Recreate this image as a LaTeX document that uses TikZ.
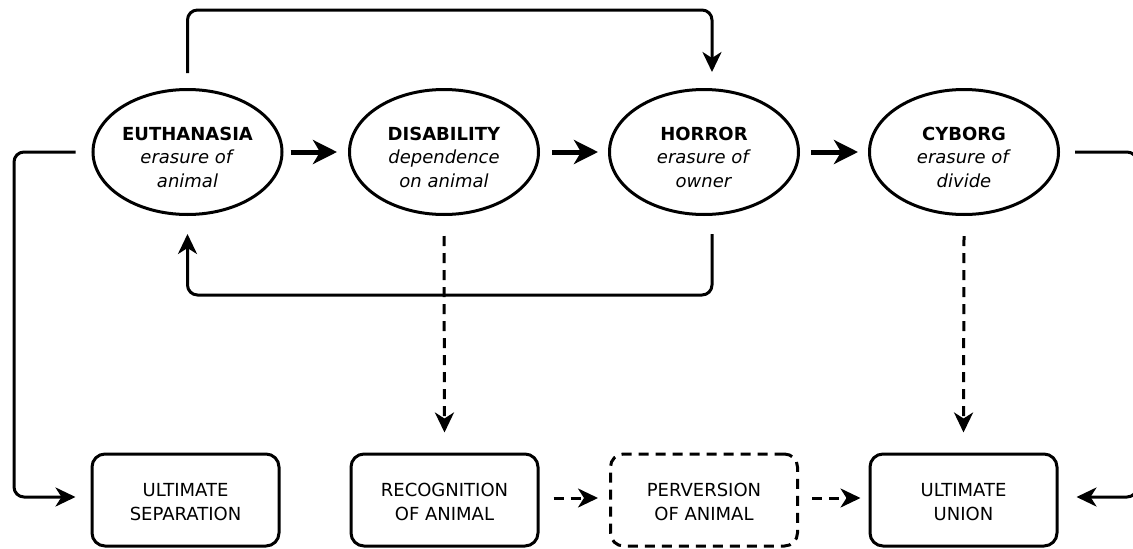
\documentclass[tikz,border=0pt]{standalone}
\usepackage{fontspec}
\setmainfont{DejaVu Sans}
\usetikzlibrary{shapes.geometric,arrows.meta,calc}
\begin{document}
\begin{tikzpicture}[x=1pt,y=-1pt,
  every node/.style={font=\fontsize{18}{23.5}\selectfont, align=center},
  oval/.style={ellipse, draw, line width=3pt, minimum width=189pt, minimum height=125pt, inner sep=0pt},
  ovaltext/.style={yshift=-5pt, inner sep=0pt},
  boxn/.style={rectangle, rounded corners=13pt, draw, line width=3pt, minimum width=187pt, minimum height=92pt, inner sep=0pt},
  boxtext/.style={yshift=-2pt, inner sep=0pt},
  dboxn/.style={boxn, dash pattern=on 10pt off 7pt},
  bigarr/.style={line width=5pt, -{Stealth[length=24pt,width=24pt,inset=7pt]}},
  arr/.style={line width=3pt, rounded corners=10pt, -{Stealth[length=20pt,width=19pt,inset=6pt]}},
  darr/.style={arr, dash pattern=on 10pt off 7pt}
]
\useasboundingbox (0,0) rectangle (1133,549);

\node[oval, label={[ovaltext]center:{\textbf{EUTHANASIA}\\\textit{erasure of}\\\textit{animal}}}] (E) at (187.5,152) {};
\node[oval, label={[ovaltext]center:{\textbf{DISABILITY}\\\textit{dependence}\\\textit{on animal}}}] (D) at (444,152) {};
\node[oval, label={[ovaltext]center:{\textbf{HORROR}\\\textit{erasure of}\\\textit{owner}}}] (H) at (704,152) {};
\node[oval, label={[ovaltext]center:{\textbf{CYBORG}\\\textit{erasure of}\\\textit{divide}}}] (C) at (964,152) {};

\node[boxn, label={[boxtext]center:{ULTIMATE\\SEPARATION}}] (S) at (185.5,500) {};
\node[boxn, label={[boxtext]center:{RECOGNITION\\OF ANIMAL}}] (R) at (444.5,500) {};
\node[dboxn, label={[boxtext]center:{PERVERSION\\OF ANIMAL}}] (P) at (704,500) {};
\node[boxn, label={[boxtext]center:{ULTIMATE\\UNION}}] (U) at (963.5,500) {};

\coordinate (top) at (0,10);
\coordinate (bot) at (0,295);
\coordinate (lft) at (14,0);
\coordinate (rgt) at (1137,0);
\coordinate (Sin) at ([xshift=-15pt,yshift=3pt]S.west);
\coordinate (Uin) at ([xshift=18pt,yshift=3pt]U.east);

\draw[bigarr, shorten <=7pt, shorten >=11pt] (E) -- (D);
\draw[bigarr, shorten <=12pt, shorten >=10pt] (D) -- (H);
\draw[bigarr, shorten <=11pt, shorten >=10pt] (H) -- (C);

\draw[arr] ([yshift=15pt]E.north) |- ([xshift=8pt]H.north |- top) -- ([xshift=8pt,yshift=16pt]H.north);
\draw[arr] ([xshift=8pt,yshift=-18pt]H.south) |- (E.south |- bot) -- ([yshift=-18pt]E.south);
\draw[arr] ([xshift=-16pt]E.west) -| (lft |- Sin) -- (Sin);
\draw[arr] ([xshift=15pt]C.east) -| (rgt |- Uin) -- (Uin);

\draw[darr] ([yshift=-20pt]D.south) -- ([yshift=20pt]R.north);
\draw[darr] ([yshift=-20pt]C.south) -- ([yshift=20pt]U.north);
\draw[darr] ([xshift=14pt,yshift=2pt]R.east) -- ([xshift=-11pt,yshift=2pt]P.west);
\draw[darr] ([xshift=13pt,yshift=2pt]P.east) -- ([xshift=-8pt,yshift=2pt]U.west);
\end{tikzpicture}
\end{document}
